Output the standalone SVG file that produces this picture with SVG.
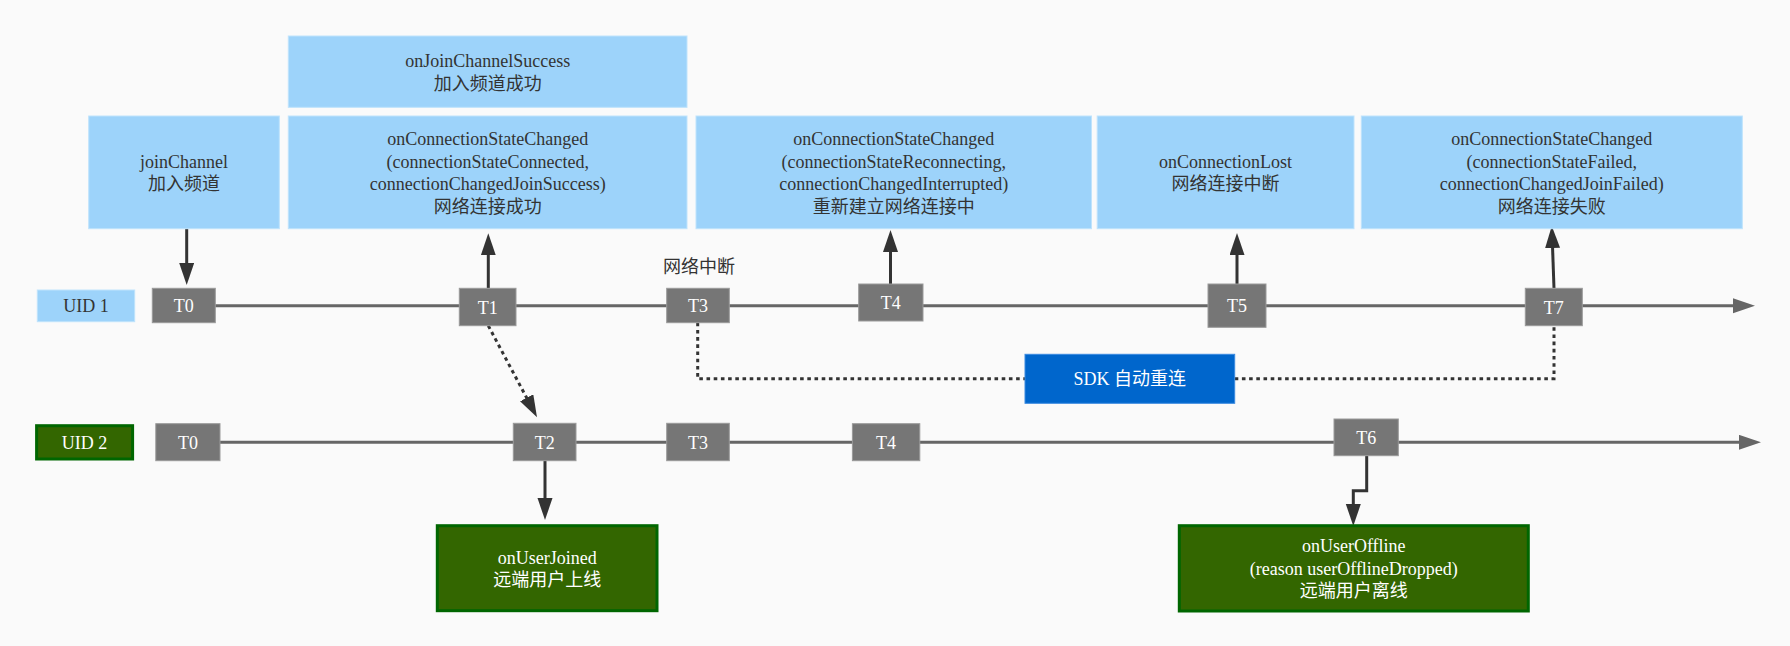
<svg xmlns="http://www.w3.org/2000/svg" width="1790" height="646" viewBox="0 0 1790 646">
<style>
text{font-family:"Liberation Serif","Noto Sans CJK SC",serif;font-size:18px;text-anchor:middle;fill:#333}
.w{fill:#fff}
.blue{fill:#9dd3fa;stroke:#bfe3fc;stroke-width:1}
.t{fill:#767676;stroke:#9a9a9a;stroke-width:1}
.green{fill:#336600;stroke:#006600;stroke-width:3}
.sdk{fill:#0066cc;stroke:#3a8ae0;stroke-width:1}
.axis{stroke:#666;stroke-width:3;fill:none}
.arr{stroke:#333;stroke-width:3;fill:none}
.dot{stroke:#333;stroke-width:3;fill:none;stroke-dasharray:3.6 3.6}
</style>
<defs>
<marker id="ah" markerUnits="userSpaceOnUse" markerWidth="24" markerHeight="16" refX="2" refY="7.5" orient="auto">
<path d="M0,0 L22,7.5 L0,15 z" fill="#333"/>
</marker>
<marker id="ahg" markerUnits="userSpaceOnUse" markerWidth="24" markerHeight="16" refX="2" refY="7.5" orient="auto">
<path d="M0,0 L22,7.5 L0,15 z" fill="#666"/>
</marker>
</defs>
<rect x="0" y="0" width="1790" height="646" fill="#fafafa"/>

<g id="connectors">
<path class="axis" d="M184,305.7 L1735,305.7" marker-end="url(#ahg)"/>
<path class="axis" d="M188,442.3 L1741,442.3" marker-end="url(#ahg)"/>
<path class="arr" d="M186.7,228.7 L186.7,265" marker-end="url(#ah)"/>
<path class="arr" d="M488.3,288.3 L488.3,253.3" marker-end="url(#ah)"/>
<path class="arr" d="M890.5,284 L890.5,250" marker-end="url(#ah)"/>
<path class="arr" d="M1237,284 L1237,253" marker-end="url(#ah)"/>
<path class="arr" d="M1554,288.3 L1552.5,246" marker-end="url(#ah)"/>
<path class="arr" d="M545,460.7 L545,500" marker-end="url(#ah)"/>
<path class="arr" d="M1366.7,455.7 L1366.7,490.7 L1353.3,490.7 L1353.3,506" marker-end="url(#ah)"/>
<path class="dot" d="M488.3,325.7 L527.6,399.6" marker-end="url(#ah)"/>
<path class="dot" d="M697.7,322.7 L697.7,378.7 L1025,378.7"/>
<path class="dot" d="M1234.7,378.7 L1554,378.7 L1554,325.7"/>
</g>

<g id="box-joinChannelSuccess">
<rect class="blue" x="288.3" y="36" width="398.7" height="71.3"/>
<text x="487.7" y="67">onJoinChannelSuccess</text>
<text x="487.7" y="89.5">加入频道成功</text>
</g>
<g id="box-joinChannel">
<rect class="blue" x="88.7" y="116" width="190.6" height="112.7"/>
<text x="184" y="167.5">joinChannel</text>
<text x="184" y="190">加入频道</text>
</g>
<g id="box-connected">
<rect class="blue" x="288.3" y="116" width="398.7" height="112.7"/>
<text x="487.7" y="145">onConnectionStateChanged</text>
<text x="487.7" y="167.5">(connectionStateConnected,</text>
<text x="487.7" y="190">connectionChangedJoinSuccess)</text>
<text x="487.7" y="212.5">网络连接成功</text>
</g>
<g id="box-reconnecting">
<rect class="blue" x="696" y="116" width="395.5" height="112.7"/>
<text x="893.8" y="145">onConnectionStateChanged</text>
<text x="893.8" y="167.5">(connectionStateReconnecting,</text>
<text x="893.8" y="190">connectionChangedInterrupted)</text>
<text x="893.8" y="212.5">重新建立网络连接中</text>
</g>
<g id="box-lost">
<rect class="blue" x="1097.2" y="116" width="256.8" height="112.7"/>
<text x="1225.6" y="167.5">onConnectionLost</text>
<text x="1225.6" y="190">网络连接中断</text>
</g>
<g id="box-failed">
<rect class="blue" x="1361.3" y="116" width="381" height="112.7"/>
<text x="1551.8" y="145">onConnectionStateChanged</text>
<text x="1551.8" y="167.5">(connectionStateFailed,</text>
<text x="1551.8" y="190">connectionChangedJoinFailed)</text>
<text x="1551.8" y="212.5">网络连接失败</text>
</g>

<g id="label-interrupt">
<text x="699" y="273">网络中断</text>
</g>

<g id="uid1">
<rect class="blue" x="37.3" y="290" width="97.4" height="31.7"/>
<text x="86" y="312">UID 1</text>
</g>
<g id="u1-T0"><rect class="t" x="152.3" y="288.3" width="63" height="34.4"/><text class="w" x="183.8" y="312">T0</text></g>
<g id="u1-T1"><rect class="t" x="459.3" y="288.3" width="56.7" height="37.4"/><text class="w" x="487.7" y="313.5">T1</text></g>
<g id="u1-T3"><rect class="t" x="666.7" y="288.3" width="62.6" height="34.4"/><text class="w" x="698" y="312">T3</text></g>
<g id="u1-T4"><rect class="t" x="858.7" y="284" width="64.3" height="37"/><text class="w" x="890.8" y="309">T4</text></g>
<g id="u1-T5"><rect class="t" x="1208" y="284" width="58" height="43.3"/><text class="w" x="1237" y="312">T5</text></g>
<g id="u1-T7"><rect class="t" x="1525.3" y="288.3" width="57" height="37.4"/><text class="w" x="1553.8" y="313.5">T7</text></g>

<g id="sdk">
<rect class="sdk" x="1025" y="354.3" width="209.7" height="49"/>
<text class="w" x="1129.8" y="385">SDK 自动重连</text>
</g>

<g id="uid2">
<rect class="green" x="36.6" y="425.7" width="96" height="33.3"/>
<text class="w" x="84.6" y="448.5">UID 2</text>
</g>
<g id="u2-T0"><rect class="t" x="155.8" y="423.7" width="64.2" height="37"/><text class="w" x="187.9" y="448.5">T0</text></g>
<g id="u2-T2"><rect class="t" x="513.3" y="423.3" width="62.7" height="37.4"/><text class="w" x="544.7" y="448.5">T2</text></g>
<g id="u2-T3"><rect class="t" x="666.7" y="423.3" width="62.6" height="37.4"/><text class="w" x="698" y="448.5">T3</text></g>
<g id="u2-T4"><rect class="t" x="852.4" y="423.7" width="67.4" height="37"/><text class="w" x="886.1" y="448.5">T4</text></g>
<g id="u2-T6"><rect class="t" x="1334" y="419" width="64.3" height="36.7"/><text class="w" x="1366.2" y="443.5">T6</text></g>

<g id="box-userJoined">
<rect class="green" x="437.3" y="525.7" width="219.7" height="85"/>
<text class="w" x="547.2" y="563.5">onUserJoined</text>
<text class="w" x="547.2" y="586">远端用户上线</text>
</g>
<g id="box-userOffline">
<rect class="green" x="1179.3" y="525.7" width="349" height="85.3"/>
<text class="w" x="1353.8" y="552.3">onUserOffline</text>
<text class="w" x="1353.8" y="574.8">(reason userOfflineDropped)</text>
<text class="w" x="1353.8" y="597.3">远端用户离线</text>
</g>
</svg>
